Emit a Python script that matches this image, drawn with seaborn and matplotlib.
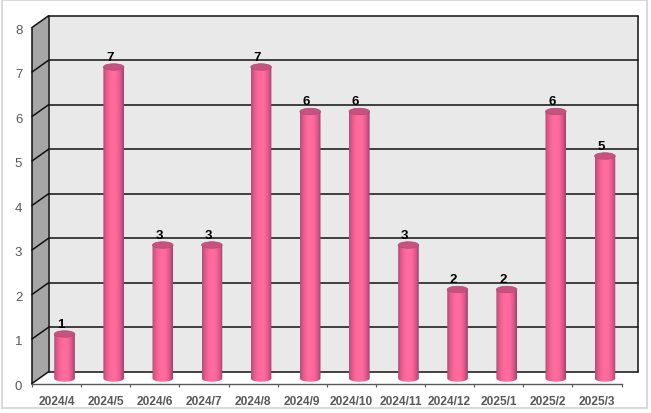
import numpy as np
import matplotlib
matplotlib.use("Agg")
import matplotlib.pyplot as plt
import seaborn as sns
from matplotlib.colors import LinearSegmentedColormap
from matplotlib.patches import Ellipse, PathPatch, Rectangle
from matplotlib.path import Path
from matplotlib.transforms import ScaledTranslation

months = ["2024/4", "2024/5", "2024/6", "2024/7", "2024/8", "2024/9",
          "2024/10", "2024/11", "2024/12", "2025/1", "2025/2", "2025/3"]
counts = [1, 7, 3, 3, 7, 6, 6, 3, 2, 2, 6, 5]
y_levels = [0, 1, 2, 3, 4, 5, 6, 7, 8]

W, H = 651, 414
sns.set_theme(style="white")
plt.rcParams['font.family'] = ['Liberation Sans', 'DejaVu Sans']

fig = plt.figure(figsize=(W / 100, H / 100), dpi=100)
fig.patch.set_facecolor("white")
fig.add_artist(Rectangle((1.5 / W, 1 - 408.5 / H), 645 / W, 408 / H, transform=fig.transFigure,
                         fill=False, edgecolor="#D9D9D9", linewidth=1.4))

# axes sit on the front plane of the fake 3d box
ax_h = 356
ax = fig.add_axes([32 / W, 1 - 384.5 / H, 589.5 / W, ax_h / H])
ax.patch.set_visible(False)

sns.barplot(x=months, y=counts, width=0.42, ax=ax)
xlim = (-0.5, len(months) - 0.5)
ylim = (0, 8)


def shifted(dx_px, dy_px):
    # pixels to the right / upward, dpi 100
    return ax.transData + ScaledTranslation(dx_px / 100, dy_px / 100, fig.dpi_scale_trans)


back = shifted(16.5, 11.7)
mid = shifted(8, 5)

ax.set_xlim(xlim)
ax.set_ylim(ylim)
fig.canvas.draw()
side_dx = 16.5 / 589.5 * (xlim[1] - xlim[0])
side_dy = 11.7 / ax_h * 8

# walls
ax.fill_between(xlim, 0, 8, color="#E9E9E9", transform=back, zorder=0, clip_on=False, linewidth=0)
ax.fill([xlim[0], xlim[0] + side_dx, xlim[0] + side_dx, xlim[0]],
        [0, side_dy, 8 + side_dy, 8], color="#A6A6A6", zorder=0.5, clip_on=False, linewidth=0)

for v in y_levels:
    ax.plot(xlim, [v, v], color="#111111", lw=1.1, transform=back, zorder=1, clip_on=False)
    ax.plot([xlim[0], xlim[0] + side_dx], [v, v + side_dy], color="#111111", lw=1.1, zorder=1, clip_on=False)
ax.plot([xlim[0], xlim[0]], ylim, color="#111111", lw=1.1, transform=back, zorder=1, clip_on=False)
ax.plot([xlim[1], xlim[1]], ylim, color="#111111", lw=1.1, transform=back, zorder=1, clip_on=False)

# cylinders, taken from the seaborn bars
cyl = LinearSegmentedColormap.from_list(
    "cyl", ["#B04E78", "#E85C8C", "#FF6699", "#FF6F9F", "#FF6699", "#E0588A", "#9C4670"])
grad = np.linspace(0, 1, 64).reshape(1, -1)
ell_h = 6.5 / (ax_h / 8)

for bar, val in zip(list(ax.patches), counts):
    bar.set_visible(False)
    bx, bw = bar.get_x(), bar.get_width()
    # body outline with rounded bottom
    k = 0.5523
    r = bw / 2
    h = ell_h / 2
    cx = bx + r
    verts = [(bx, val), (bx, 0), (bx, -k * h), (cx - k * r, -h), (cx, -h),
             (cx + k * r, -h), (bx + bw, -k * h), (bx + bw, 0), (bx + bw, val),
             (cx + k * r, val + h * 0), (cx, val), (bx, val)]
    codes = [Path.MOVETO, Path.LINETO, Path.CURVE4, Path.CURVE4, Path.CURVE4,
             Path.CURVE4, Path.CURVE4, Path.CURVE4, Path.LINETO,
             Path.LINETO, Path.LINETO, Path.CLOSEPOLY]
    clip = PathPatch(Path(verts, codes), transform=mid, facecolor="none", edgecolor="none")
    ax.add_patch(clip)
    im = ax.imshow(grad, cmap=cyl, extent=(bx, bx + bw, -h, val), aspect="auto", zorder=3, interpolation="bilinear")
    im.set_transform(mid)
    im.set_clip_path(clip)
    top = Ellipse((cx, val), bw, ell_h, facecolor="#C8527F", edgecolor="#B04A75", lw=0.5, transform=mid, zorder=4)
    top.set_clip_on(False)
    ax.add_patch(top)
    ax.annotate(str(val), (cx, val), xytext=(-2.8, 3.2), textcoords="offset points",
                ha="center", va="bottom", fontsize=9.5, fontweight="bold", color="black",
                xycoords=mid, zorder=5, annotation_clip=False)

ax.set_xlim(xlim)
ax.set_ylim(ylim)

for s in ["top", "right"]:
    ax.spines[s].set_visible(False)
ax.spines["left"].set_color("#111111")
ax.spines["left"].set_linewidth(1.1)
ax.spines["bottom"].set_color("#595959")
ax.spines["bottom"].set_linewidth(1.0)

ax.set_yticks(y_levels)
ax.set_yticklabels([str(v) for v in y_levels], fontsize=9.5, color="#595959")
ax.tick_params(axis="y", length=0, pad=7)
down = ScaledTranslation(0, -1 / 100, fig.dpi_scale_trans)
for lab in ax.get_yticklabels():
    lab.set_transform(lab.get_transform() + down)
ax.set_xticks(range(len(months)))
ax.set_xticklabels(months, fontsize=8.6, fontweight="bold", color="#595959")
ax.set_xticks(np.arange(len(months) + 1) - 0.5, minor=True)
ax.tick_params(axis="x", which="major", length=0, pad=8.5)
ax.tick_params(axis="x", which="minor", length=2.5, width=0.8, color="#595959", bottom=True)
ax.set_xlabel("")
ax.set_ylabel("")

fig.savefig("out.png", dpi=100)
